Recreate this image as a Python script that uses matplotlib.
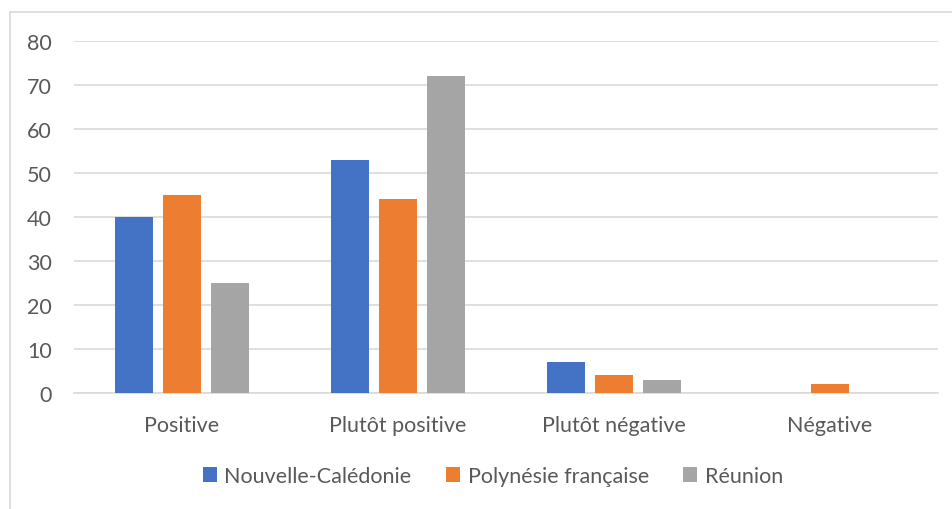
import numpy as np
import matplotlib
matplotlib.use('Agg')
from matplotlib import pyplot as plt
from matplotlib.lines import Line2D
from matplotlib.patches import Patch

categories = ['Positive', 'Plutôt positive', 'Plutôt négative', 'Négative']
series = ['Nouvelle-Calédonie', 'Polynésie française', 'Réunion']
nc = [40, 53, 7, 0]
pf = [45, 44, 4, 2]
re = [25, 72, 3, 0]
colors = ['#4472c4', '#ed7d31', '#a5a5a5']
yticks = [0, 10, 20, 30, 40, 50, 60, 70, 80]

plt.rcParams['font.family'] = ['Lato', 'DejaVu Sans']
W, H = 952, 510
fig = plt.figure(figsize=(W / 100, H / 100), dpi=100)
ax = fig.add_axes([74 / W, (H - 394) / H, (938 - 74) / W, (394 - 42) / H])

x = np.arange(len(categories))
w = 38 / 216
off = 48 / 216
for i, (vals, c) in enumerate(zip([nc, pf, re], colors)):
    ax.bar(x + (i - 1) * off, vals, width=w, color=c, zorder=3)

ax.set_xlim(-0.5, len(categories) - 0.5)
ax.set_ylim(0, 80)
ax.set_yticks(yticks)
ax.set_xticks(x)
ax.set_xticklabels(categories)
ax.grid(axis='y', color='#d9d9d9', linewidth=1.2, zorder=0)
for s in ['top', 'right', 'left']:
    ax.spines[s].set_visible(False)
ax.spines['bottom'].set_color('#d9d9d9')
ax.spines['bottom'].set_linewidth(1.2)
ax.tick_params(axis='both', length=0, labelsize=15.5, colors='#595959')
ax.tick_params(axis='x', pad=16)
ax.tick_params(axis='y', pad=16)

handles = [Patch(facecolor=c) for c in colors]
fig.legend(handles, series, loc='center', bbox_to_anchor=(493 / W, 1 - 477 / H),
           ncol=3, frameon=False, fontsize=15.5, labelcolor='#595959',
           handlelength=0.65, handleheight=0.65, handletextpad=0.35, columnspacing=1.6)

# chart border
fig.add_artist(Line2D([10 / W, 10 / W], [0, 1 - 13 / H], color='#d9d9d9', linewidth=1.2))
fig.add_artist(Line2D([10 / W, 1], [1 - 13 / H, 1 - 13 / H], color='#d9d9d9', linewidth=1.2))

fig.savefig('out.png', dpi=100)
